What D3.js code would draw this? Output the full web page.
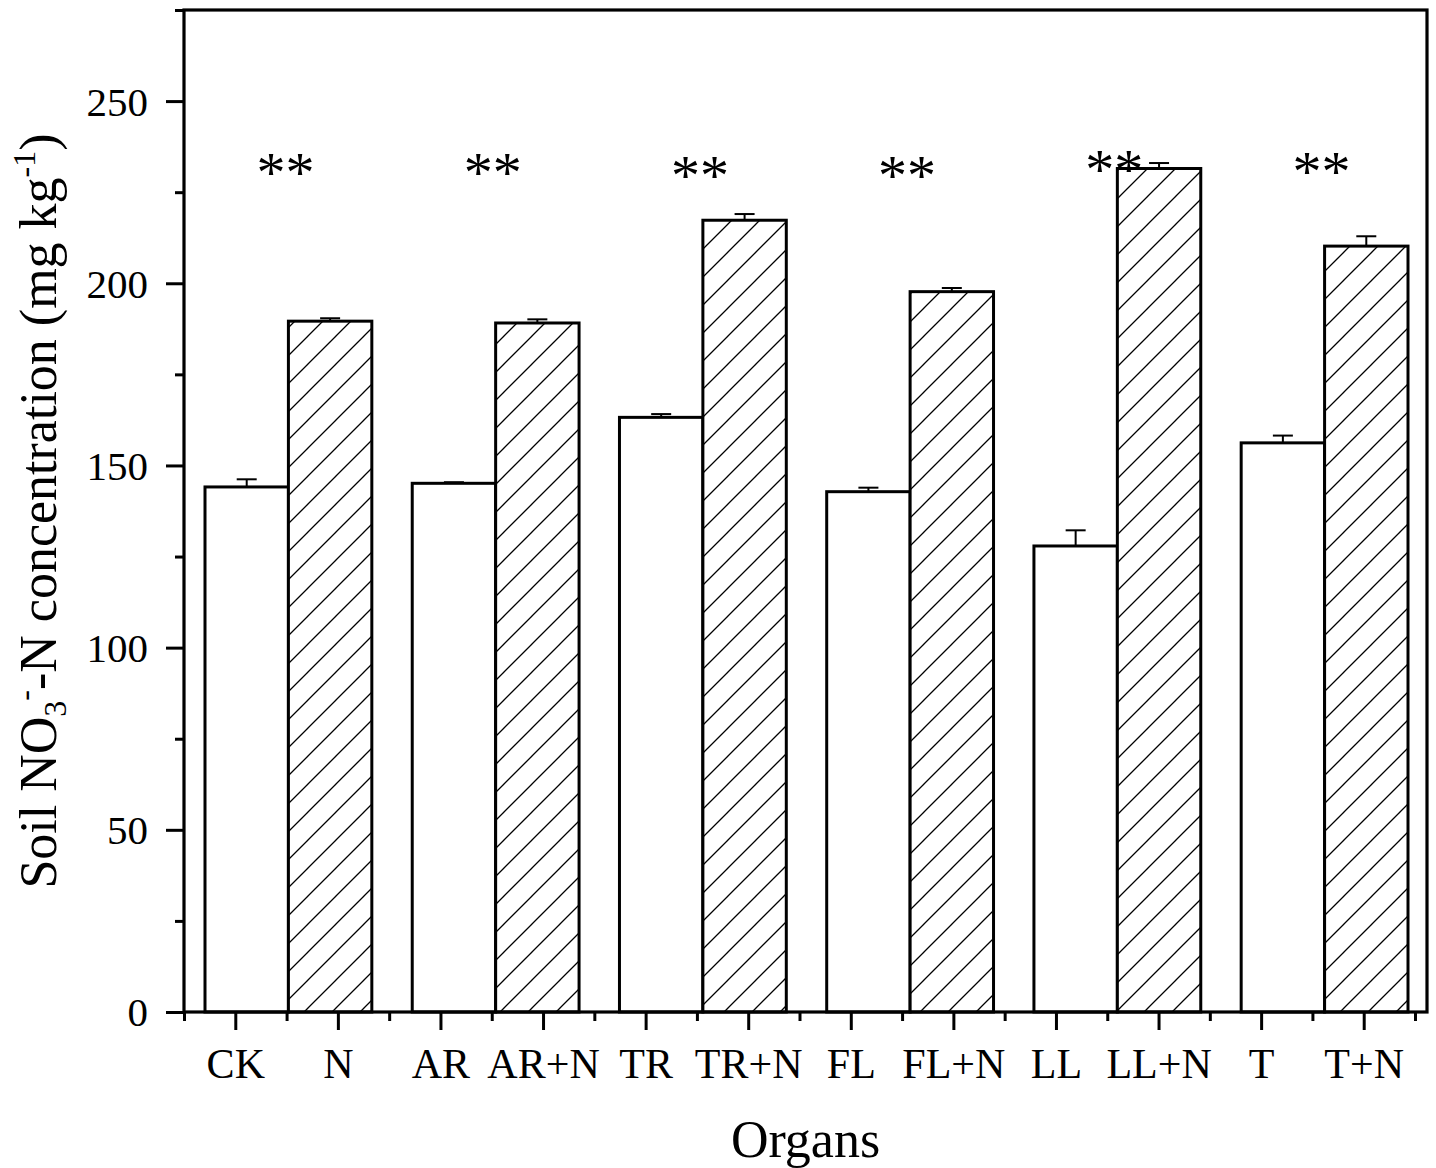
<!DOCTYPE html>
<html>
<head>
<meta charset="utf-8">
<script src="https://cdn.jsdelivr.net/npm/d3@7"></script>
<style>
  body { margin: 0; background: #fff; }
  text { font-family: "Liberation Serif", "Times New Roman", serif; fill: #000; }
</style>
</head>
<body>
<div id="chart"></div>
<script>
// categories shown on the x axis
var categories = ["CK", "N", "AR", "AR+N", "TR", "TR+N", "FL", "FL+N", "LL", "LL+N", "T", "T+N"];
var groups = ["CK", "AR", "TR", "FL", "LL", "T"];

// soil NO3--N (mg/kg), without and with N
var plainVals = [144.1, 145.1, 163.2, 142.8, 127.9, 156.2];
var plainErr  = [2.1, 0.3, 0.9, 1.1, 4.3, 2.0];
var nVals     = [189.6, 189.1, 217.3, 197.7, 231.5, 210.2];
var nErr      = [0.8, 1.0, 1.7, 1.0, 1.5, 2.7];

// significance marks, level (centre of the marks) in data units
var sigText  = ["**", "**", "**", "**", "**", "**"];
var sigLevel = [232.4, 232.4, 231.7, 231.7, 233.4, 232.8];

var yTicks = [0, 50, 100, 150, 200, 250];
var yMinor = [25, 75, 125, 175, 225, 275];

var W = 1436, H = 1168;
var pLeft = 184, pRight = 1427, pTop = 10, pBottom = 1012;

var svg = d3.select("#chart").append("svg")
  .attr("width", W)
  .attr("height", H);

svg.append("rect").attr("width", W).attr("height", H).attr("fill", "#fff");

var defs = svg.append("defs");
var pat = defs.append("pattern")
  .attr("id", "hatch")
  .attr("patternUnits", "userSpaceOnUse")
  .attr("width", 28)
  .attr("height", 28);
pat.append("rect").attr("width", 28).attr("height", 28).attr("fill", "#fff");
pat.append("path")
  .attr("d", "M-7,7 L7,-7 M0,28 L28,0 M21,35 L35,21")
  .attr("stroke", "#000")
  .attr("stroke-width", 1.3);

// axis scale for category ticks
var x = d3.scaleLinear().domain([0.5, 12.617]).range([pLeft, pRight]);
var y = d3.scaleLinear().domain([0, 275]).range([pBottom, pTop]);

// bars sit on their own band scale (offset from the ticks, as in the original)
var xg = d3.scaleBand().domain(groups).range([205, 1408]).paddingInner(0.195).paddingOuter(0);
var xs = d3.scaleBand().domain(["plain", "n"]).range([0, xg.bandwidth()]);

var rows = [];
groups.forEach(function(g, i) {
  rows.push({ g: g, k: "plain", v: plainVals[i], e: plainErr[i] });
  rows.push({ g: g, k: "n", v: nVals[i], e: nErr[i] });
});

svg.append("g").selectAll("rect")
  .data(rows)
  .enter().append("rect")
  .attr("x", function(d) { return xg(d.g) + xs(d.k); })
  .attr("y", function(d) { return y(d.v); })
  .attr("width", xs.bandwidth())
  .attr("height", function(d) { return y(0) - y(d.v); })
  .attr("fill", function(d) { return d.k == "n" ? "url(#hatch)" : "#fff"; })
  .attr("stroke", "#000")
  .attr("stroke-width", 3);

// error bars (upper only)
var eb = svg.append("g").attr("stroke", "#000").attr("stroke-width", 2);
rows.forEach(function(d) {
  var cx = xg(d.g) + xs(d.k) + xs.bandwidth() / 2;
  eb.append("line").attr("x1", cx).attr("x2", cx).attr("y1", y(d.v)).attr("y2", y(d.v + d.e));
  eb.append("line").attr("x1", cx - 10).attr("x2", cx + 10).attr("y1", y(d.v + d.e)).attr("y2", y(d.v + d.e));
});

// significance
svg.append("g").selectAll("text")
  .data(groups)
  .enter().append("text")
  .attr("x", function(d) { return xg(d) + xg.bandwidth() / 2 - 3; })
  .attr("y", function(d, i) { return y(sigLevel[i]); })
  .attr("dy", "0.47em")
  .attr("text-anchor", "middle")
  .attr("font-size", 58)
  .text(function(d, i) { return sigText[i]; });

// frame
svg.append("rect")
  .attr("x", pLeft).attr("y", pTop)
  .attr("width", pRight - pLeft).attr("height", pBottom - pTop)
  .attr("fill", "none")
  .attr("stroke", "#000")
  .attr("stroke-width", 3.2);

// y axis
var yAxis = svg.append("g").attr("transform", "translate(" + pLeft + ",0)");
yAxis.call(d3.axisLeft(y).tickValues(yTicks).tickSize(18).tickPadding(18).tickFormat(d3.format("d")));
yAxis.append("g").call(d3.axisLeft(y).tickValues(yMinor).tickSize(9).tickFormat(""));
yAxis.selectAll(".domain").remove();
yAxis.selectAll("line").attr("stroke", "#000").attr("stroke-width", 3);
yAxis.selectAll("text").attr("font-size", 41).attr("font-family", "Liberation Serif").attr("dy", "0.34em");

// x axis
var xAxis = svg.append("g").attr("transform", "translate(0," + pBottom + ")");
xAxis.call(d3.axisBottom(x).tickValues(d3.range(1, 13)).tickSize(18).tickPadding(18)
  .tickFormat(function(d) { return categories[d - 1]; }));
xAxis.append("g").call(d3.axisBottom(x).tickValues(d3.range(0.5, 13, 1)).tickSize(9).tickFormat(""));
xAxis.selectAll(".domain").remove();
xAxis.selectAll("line").attr("stroke", "#000").attr("stroke-width", 3);
xAxis.selectAll("text").attr("font-size", 42).attr("font-family", "Liberation Serif").attr("dy", "0.71em");

// axis titles
svg.append("text")
  .attr("x", (pLeft + pRight) / 2)
  .attr("y", 1157)
  .attr("text-anchor", "middle")
  .attr("font-size", 52)
  .text("Organs");

var yt = svg.append("text")
  .attr("transform", "translate(56," + (pTop + pBottom) / 2 + ") rotate(-90)")
  .attr("text-anchor", "middle")
  .attr("font-size", 52);
yt.append("tspan").text("Soil NO");
yt.append("tspan").attr("font-size", 32).attr("dy", 10).text("3");
yt.append("tspan").attr("font-size", 32).attr("dy", -31).text("-");
yt.append("tspan").attr("dy", 21).text("-N concentration (mg kg");
yt.append("tspan").attr("font-size", 32).attr("dy", -21).text("-1");
yt.append("tspan").attr("dy", 21).text(")");
</script>
</body>
</html>
